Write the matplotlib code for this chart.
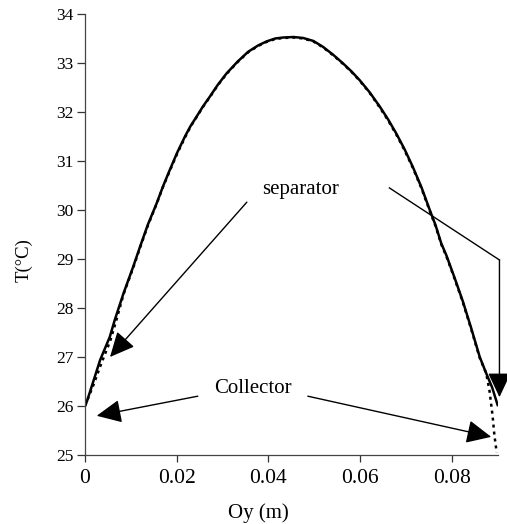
import matplotlib
matplotlib.use("Agg")
import matplotlib.pyplot as plt

plt.rcParams['font.family'] = ['Liberation Serif', 'DejaVu Serif']

# Solid curve (model)
oy_solid = [0.0, 0.0004, 0.0018, 0.0033, 0.0054, 0.0065, 0.0084, 0.0105, 0.0120, 0.0137,
            0.0156, 0.0170, 0.0185, 0.0201, 0.0218, 0.0230, 0.0243, 0.0257, 0.0272,
            0.0290, 0.0309, 0.0333, 0.0356, 0.0378, 0.0396, 0.0415, 0.0432, 0.0455,
            0.0476, 0.0498, 0.0519, 0.0541, 0.0563, 0.0581, 0.0599, 0.0621, 0.0643,
            0.0661, 0.0679, 0.0697, 0.0715, 0.0734, 0.0752, 0.0765, 0.0777,
            0.0788, 0.0806, 0.0824, 0.0842, 0.0861, 0.0875, 0.0888, 0.0900]
t_solid = [26.00, 26.09, 26.50, 26.94, 27.41, 27.76, 28.30, 28.84, 29.25, 29.70,
           30.13, 30.48, 30.82, 31.17, 31.50, 31.71, 31.90, 32.11, 32.31,
           32.56, 32.79, 33.03, 33.23, 33.36, 33.44, 33.50, 33.52, 33.53,
           33.51, 33.45, 33.33, 33.17, 32.99, 32.83, 32.65, 32.40, 32.11,
           31.85, 31.56, 31.24, 30.88, 30.46, 30.00, 29.68, 29.32,
           29.08, 28.62, 28.14, 27.60, 27.00, 26.67, 26.38, 26.02]

# Dotted curve (second model)
oy_dot = [0.0, 0.0018, 0.0036, 0.0055, 0.0068, 0.0084, 0.0105, 0.0120, 0.0137,
          0.0156, 0.0170, 0.0185, 0.0201, 0.0218, 0.0230, 0.0243, 0.0257, 0.0272,
          0.0290, 0.0309, 0.0333, 0.0356, 0.0378, 0.0396, 0.0415, 0.0432, 0.0455,
          0.0476, 0.0498, 0.0519, 0.0541, 0.0563, 0.0581, 0.0599, 0.0621, 0.0643,
          0.0661, 0.0679, 0.0697, 0.0715, 0.0734, 0.0752, 0.0765, 0.0777,
          0.0788, 0.0806, 0.0824, 0.0842, 0.0861, 0.0875, 0.0882, 0.0889, 0.0893, 0.0898]
t_dot = [26.00, 26.42, 26.88, 27.33, 27.74, 28.28, 28.82, 29.23, 29.68,
         30.12, 30.47, 30.80, 31.15, 31.48, 31.70, 31.89, 32.10, 32.30,
         32.55, 32.78, 33.02, 33.22, 33.35, 33.43, 33.49, 33.51, 33.52,
         33.50, 33.44, 33.32, 33.16, 32.98, 32.82, 32.64, 32.39, 32.09,
         31.83, 31.54, 31.22, 30.86, 30.44, 29.98, 29.66, 29.30,
         29.06, 28.60, 28.12, 27.58, 26.98, 26.67, 26.33, 25.80, 25.40, 25.05]

x_ticks = [0, 0.02, 0.04, 0.06, 0.08]
x_ticklabels = ['0', '0.02', '0.04', '0.06', '0.08']
y_ticks = [25, 26, 27, 28, 29, 30, 31, 32, 33, 34]

fig = plt.figure(figsize=(5.07, 5.24), dpi=100)
ax = fig.add_axes([0.1677, 0.1317, 0.8138, 0.8416])

ax.plot(oy_dot, t_dot, color='black', lw=1.8, ls=(0, (1.2, 1.6)))
ax.plot(oy_solid, t_solid, color='black', lw=1.8)

ax.set_xlim(0, 0.09)
ax.set_ylim(25, 34)
ax.set_xticks(x_ticks)
ax.set_xticklabels(x_ticklabels, fontsize=15.5)
ax.set_yticks(y_ticks)
ax.tick_params(axis='y', labelsize=12.5, direction='out', length=5.5, width=0.9, pad=3, colors='#333333')
ax.tick_params(axis='x', direction='out', length=5, width=0.9, pad=5, colors='#333333')
for lab in ax.get_xticklabels() + ax.get_yticklabels():
    lab.set_color('black')

for s in ['top', 'right']:
    ax.spines[s].set_visible(False)
for s in ['left', 'bottom']:
    ax.spines[s].set_color('#444444')
    ax.spines[s].set_linewidth(0.9)

ax.set_xlabel('Oy (m)', fontsize=15)
ax.set_ylabel('T(°C)', fontsize=13.5)
ax.xaxis.set_label_coords(0.42, -0.11)
ax.yaxis.set_label_coords(-0.128, 0.443)

aprops = dict(arrowstyle='-|>,head_length=0.85,head_width=0.4', mutation_scale=18,
              color='black', lw=1.0, shrinkA=0, shrinkB=0)

ax.text(0.0471, 30.41, 'separator', fontsize=15, ha='center', va='center')
ax.text(0.0366, 26.35, 'Collector', fontsize=15, ha='center', va='center')

# separator arrows
ax.annotate('', xy=(0.00545, 27.0), xytext=(0.0353, 30.16), arrowprops=aprops)
ax.plot([0.0664, 0.0904], [30.45, 28.98], color='black', lw=1.0, clip_on=False)
ax.annotate('', xy=(0.0904, 26.18), xytext=(0.0904, 28.98), arrowprops=aprops,
            annotation_clip=False)

# collector arrows
ax.annotate('', xy=(0.00255, 25.80), xytext=(0.0246, 26.2), arrowprops=aprops)
ax.annotate('', xy=(0.0886, 25.37), xytext=(0.0486, 26.2), arrowprops=aprops)

fig.savefig('out.png', dpi=100)
